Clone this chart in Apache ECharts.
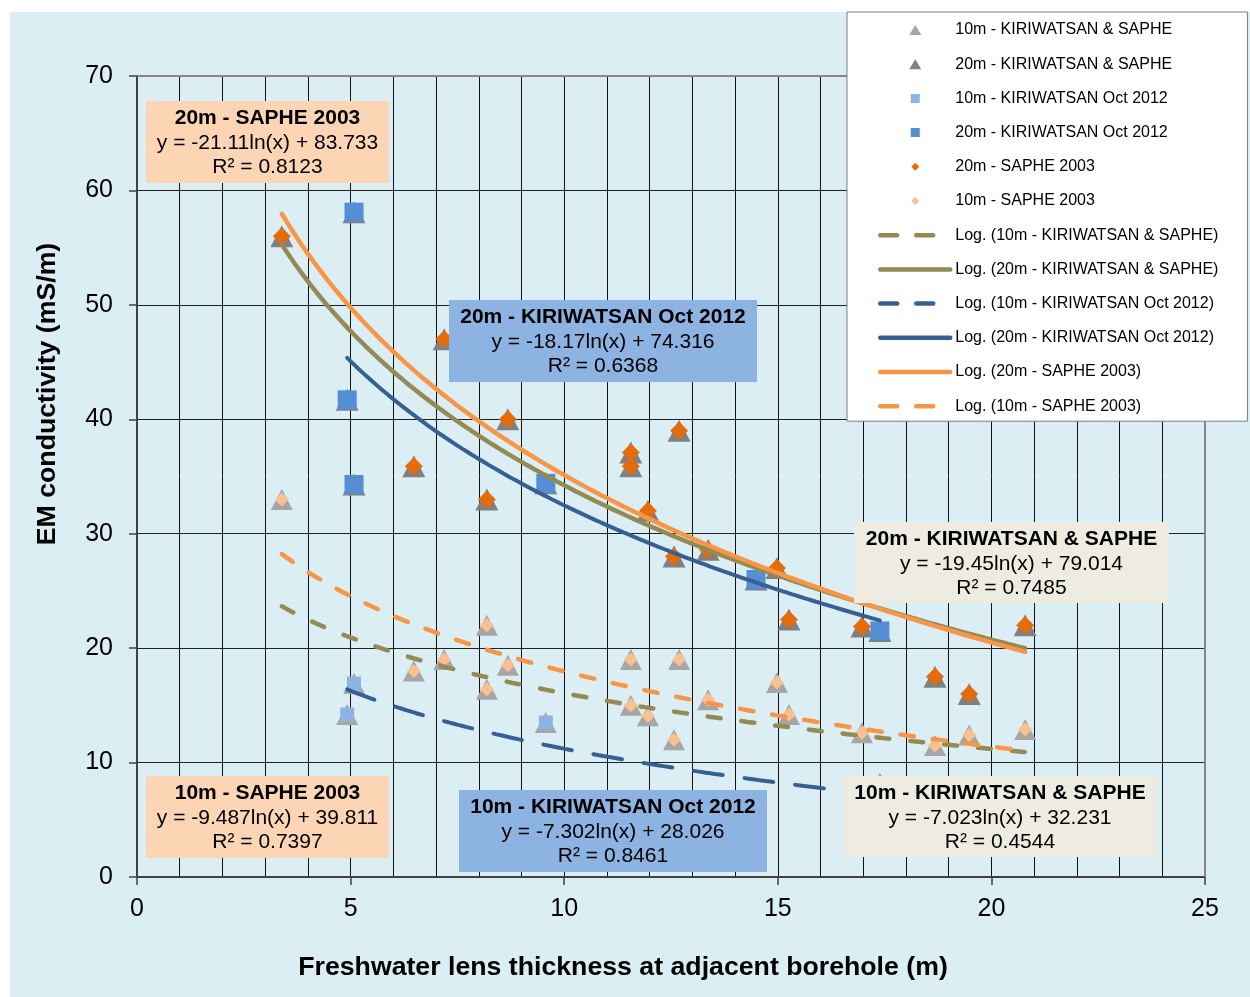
<!DOCTYPE html>
<html>
<head>
<meta charset="utf-8">
<script src="https://cdn.jsdelivr.net/npm/echarts@6/dist/echarts.min.js"></script>
<style>
html, body { margin: 0; padding: 0; background: #fff; }
#bg { position: absolute; left: 10px; top: 12px; width: 1240px; height: 985px; background: #dbeef4; }
#chart { position: absolute; left: 0; top: 0; width: 1250px; height: 997px; }
</style>
</head>
<body>
<div id="bg"></div>
<div id="chart"></div>
<script>
// 20m readings [lens thickness, EM conductivity]
var saphe20 = [[3.39,56.0],[6.48,35.9],[7.19,47.0],[8.19,33.0],[8.68,40.0],[11.56,37.1],[11.56,35.9],[11.96,32.0],
	[12.69,39.0],[12.57,28.0],[13.37,28.6],[14.98,27.0],[15.26,22.5],[16.97,21.9],[18.68,17.5],[19.48,16.0],[20.79,22.0]];
var kiri20 = [[5.08,58.1],[4.92,41.7],[5.08,34.3],[9.57,34.4],[14.49,26.0],[17.39,21.5]];
// 10m readings
var saphe10 = [[3.39,33.0],[6.48,18.0],[7.19,19.0],[8.19,22.0],[8.19,16.4],[8.68,18.5],[11.56,19.0],[11.56,15.0],
	[11.96,14.1],[12.69,19.0],[12.57,12.0],[13.37,15.5],[14.98,17.0],[15.26,14.2],[16.97,12.6],[18.68,11.5],[19.48,12.4],[20.79,12.9]];
var kiri10 = [[5.08,16.9],[4.92,14.2],[9.57,13.5],[14.49,6.5],[17.39,8.2]];

// log trendlines y = a*ln(x) + b, as printed on the chart
var fitKS10 = [-7.023, 32.231];
var fitKS20 = [-19.45, 79.014];
var fitK10 = [-7.302, 28.026];
var fitK20 = [-18.17, 74.316];
var fitS20 = [-21.11, 83.733];
var fitS10 = [-9.487, 39.811];
var rangeKS = [3.39, 20.79];
var rangeK = [4.92, 17.39];
var rangeS = [3.39, 20.79];

var seriesNames = ['10m - KIRIWATSAN & SAPHE', '20m - KIRIWATSAN & SAPHE', '10m - KIRIWATSAN Oct 2012',
	'20m - KIRIWATSAN Oct 2012', '20m - SAPHE 2003', '10m - SAPHE 2003'];
var trendNames = ['Log. (10m - KIRIWATSAN & SAPHE)', 'Log. (20m - KIRIWATSAN & SAPHE)', 'Log. (10m - KIRIWATSAN Oct 2012)',
	'Log. (20m - KIRIWATSAN Oct 2012)', 'Log. (20m - SAPHE 2003)', 'Log. (10m - SAPHE 2003)'];
var trendDashed = [true, false, true, false, false, true];

var xTicks = [0, 25, 5];
var yTicks = [0, 70, 10];

// legend icons, drawn in a 70x10 box (tiny end stubs keep the box from being stretched)
var stubs = 'M0,5 L0.01,5 Z M70,5 L69.99,5 Z M35,0 L35,0.01 Z M35,10 L35,9.99 Z ';
var iconTri = 'path://' + stubs + 'M29,10 L35,0 L41,10 Z';
var iconRect = 'path://' + stubs + 'M30.5,0.5 L39.5,0.5 L39.5,9.5 L30.5,9.5 Z';
var iconDia = 'path://' + stubs + 'M35,1 L39,5 L35,9 L31,5 Z';
var seriesIcons = [iconTri, iconTri, iconRect, iconRect, iconDia, iconDia];

function curve(fit, range) {
	var pts = [];
	for (var x = range[0]; x < range[1]; x += 0.1) {
		pts.push([x, fit[0] * Math.log(x) + fit[1]]);
	}
	pts.push([range[1], fit[0] * Math.log(range[1]) + fit[1]]);
	return pts;
}

function eqText(fit) {
	return 'y = ' + fit[0] + 'ln(x) + ' + fit[1].toFixed(3);
}

var fontFam = '"Liberation Sans", Arial, sans-serif';

// equation boxes: [left, top, width, height, fill, title, fit, r2]
var boxes = [
	[146, 101, 243, 82, '#fcd5b5', '20m - SAPHE 2003', fitS20, '0.8123'],
	[449, 300, 308, 82, '#8db3e2', '20m - KIRIWATSAN Oct 2012', fitK20, '0.6368'],
	[854, 522, 315, 81, '#eeece1', '20m - KIRIWATSAN & SAPHE', fitKS20, '0.7485'],
	[146, 776, 243, 82, '#fcd5b5', '10m - SAPHE 2003', fitS10, '0.7397'],
	[459, 790, 308, 82, '#8db3e2', '10m - KIRIWATSAN Oct 2012', fitK10, '0.8461'],
	[843, 776, 314, 81, '#eeece1', '10m - KIRIWATSAN & SAPHE', fitKS10, '0.4544']
];

var graphics = [];
// top/right plot border
graphics.push({
	type: 'polyline', z: 3, silent: true,
	shape: { points: [[137, 76], [1205, 76], [1205, 877]] },
	style: { stroke: '#868686', lineWidth: 2, fill: null }
});
boxes.forEach(function(b) {
	var cx = b[0] + b[2] / 2;
	graphics.push({ type: 'rect', z: 10, silent: true, shape: { x: b[0], y: b[1], width: b[2], height: b[3] }, style: { fill: b[4] } });
	graphics.push({ type: 'text', z: 11, silent: true, x: cx, y: b[1] + 17,
		style: { text: b[5], font: 'bold 21px ' + fontFam, fill: '#000', textAlign: 'center', textVerticalAlign: 'middle' } });
	graphics.push({ type: 'text', z: 11, silent: true, x: cx, y: b[1] + 42,
		style: { text: eqText(b[6]), font: '21px ' + fontFam, fill: '#000', textAlign: 'center', textVerticalAlign: 'middle' } });
	graphics.push({ type: 'text', z: 11, silent: true, x: cx, y: b[1] + 66,
		style: { text: 'R² = ' + b[7], font: '21px ' + fontFam, fill: '#000', textAlign: 'center', textVerticalAlign: 'middle' } });
});
// axis titles
graphics.push({ type: 'text', z: 11, silent: true, x: 623, y: 968,
	style: { text: 'Freshwater lens thickness at adjacent borehole (m)', font: 'bold 26.7px ' + fontFam, fill: '#000', textAlign: 'center', textVerticalAlign: 'middle' } });
graphics.push({ type: 'text', z: 11, silent: true, x: 48, y: 394, rotation: Math.PI / 2,
	style: { text: 'EM conductivity (mS/m)', font: 'bold 26.7px ' + fontFam, fill: '#000', textAlign: 'center', textVerticalAlign: 'middle' } });

function scatter(name, data, symbol, size, color) {
	return { name: name, type: 'scatter', data: data, symbol: symbol, symbolSize: size,
		itemStyle: { color: color, opacity: 1 }, emphasis: { disabled: true }, silent: true };
}
function trend(name, fit, range, color, width, dash) {
	return { name: name, type: 'line', data: curve(fit, range), symbol: 'none', showSymbol: false, smooth: false,
		lineStyle: { color: color, width: width, type: dash, cap: 'round' }, itemStyle: { color: color },
		emphasis: { disabled: true }, silent: true };
}

var legendData = seriesNames.map(function(n, i) {
	return { name: n, icon: seriesIcons[i] };
}).concat(trendNames.map(function(n, i) {
	return { name: n, itemStyle: { opacity: 0, borderWidth: 0 },
		lineStyle: { width: 4.5, type: trendDashed[i] ? [17, 19] : 'solid', cap: 'round' } };
}));

var option = {
	animation: false,
	backgroundColor: 'transparent',
	textStyle: { fontFamily: fontFam },
	grid: { left: 137, top: 76, right: 45, bottom: 120, show: false, outerBoundsMode: 'none' },
	legend: {
		orient: 'vertical', left: 847, top: 12,
		padding: [10, 29, 7, 31],
		itemWidth: 70, itemHeight: 10, itemGap: 18.2,
		backgroundColor: '#fff', borderColor: '#7f7f7f', borderWidth: 1, borderRadius: 0,
		textStyle: { fontSize: 16, color: '#000', fontFamily: fontFam },
		selectedMode: false,
		data: legendData
	},
	xAxis: {
		type: 'value', min: xTicks[0], max: xTicks[1], interval: xTicks[2],
		axisLine: { show: true, onZero: false, lineStyle: { color: '#404040', width: 2 } },
		axisTick: { show: true, inside: false, length: 8, lineStyle: { color: '#404040', width: 1.5 } },
		minorTick: { show: false, splitNumber: 5 },
		axisLabel: { fontSize: 25, color: '#000', margin: 20, fontFamily: fontFam },
		splitLine: { show: true, lineStyle: { color: '#111', width: 1 } },
		minorSplitLine: { show: true, lineStyle: { color: '#111', width: 1 } }
	},
	yAxis: {
		type: 'value', min: yTicks[0], max: yTicks[1], interval: yTicks[2],
		axisLine: { show: true, onZero: false, lineStyle: { color: '#404040', width: 2 } },
		axisTick: { show: true, inside: false, length: 8, lineStyle: { color: '#404040', width: 1.5 } },
		axisLabel: { fontSize: 25, color: '#000', margin: 24, fontFamily: fontFam },
		splitLine: { show: true, lineStyle: { color: '#222', width: 1 } }
	},
	graphic: graphics,
	series: [
		scatter(seriesNames[0], saphe10.concat(kiri10), 'triangle', [22, 21], '#a6a6a6'),
		scatter(seriesNames[1], saphe20.concat(kiri20), 'triangle', [23, 22], '#808080'),
		scatter(seriesNames[2], kiri10, 'rect', 14, '#8db3e2'),
		scatter(seriesNames[3], kiri20, 'rect', 19, '#558ed5'),
		scatter(seriesNames[4], saphe20, 'diamond', 18, '#e46c0a'),
		scatter(seriesNames[5], saphe10, 'diamond', 14, '#fac090'),
		trend(trendNames[0], fitKS10, rangeKS, '#948a54', 4.5, [13, 21]),
		trend(trendNames[1], fitKS20, rangeKS, '#948a54', 4.5, 'solid'),
		trend(trendNames[2], fitK10, rangeK, '#366092', 4, [29, 22]),
		trend(trendNames[3], fitK20, rangeK, '#366092', 4, 'solid'),
		trend(trendNames[4], fitS20, rangeS, '#f79646', 4.5, 'solid'),
		trend(trendNames[5], fitS10, rangeS, '#f79646', 4.5, [13.5, 19])
	]
};

var chart = echarts.init(document.getElementById('chart'));
chart.setOption(option);
</script>
</body>
</html>
